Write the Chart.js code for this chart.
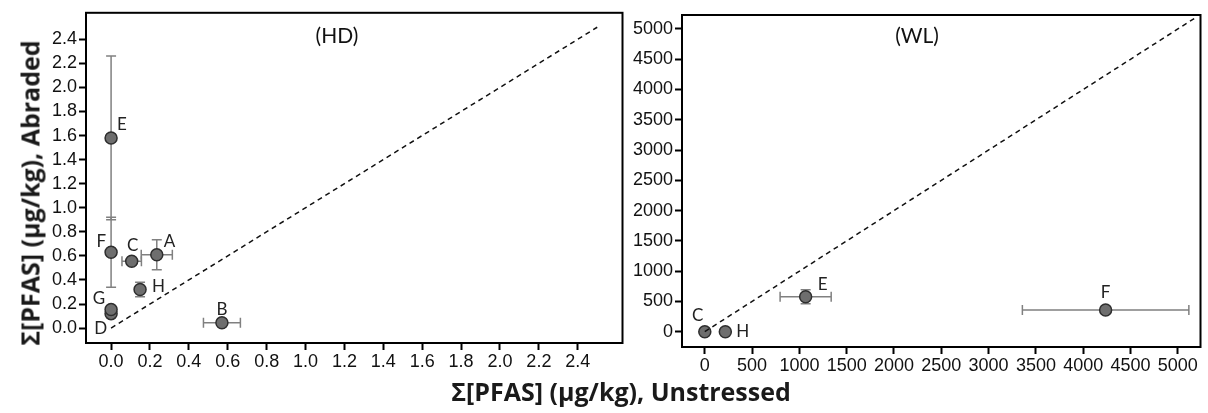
<!DOCTYPE html>
<html>
<head>
<meta charset="utf-8">
<script src="https://cdn.jsdelivr.net/npm/chart.js@4.4.1/dist/chart.umd.min.js"></script>
<style>
  html, body { margin: 0; padding: 0; background: #fff; }
  #wrap { position: relative; width: 1208px; height: 413px; overflow: hidden; }
  canvas { position: absolute; top: 0; }
  #hdChart { left: 0; }
  #wlChart { left: 630px; }
  .axis-title { position: absolute; font-family: 'Open Sans', Lato, sans-serif; font-weight: 700; font-size: 25px; color: #1a1a1a; white-space: nowrap; line-height: 1; }
  #xTitle { left: 321px; width: 600px; top: 379px; text-align: center; }
  #yTitle { left: 30px; top: 193px; transform: translate(-50%, -50%) rotate(-90deg); }
</style>
</head>
<body>
<div id="wrap">
  <canvas id="hdChart" width="630" height="413"></canvas>
  <canvas id="wlChart" width="578" height="413"></canvas>
  <div id="yTitle" class="axis-title">Σ[PFAS] (µg/kg), Abraded</div>
  <div id="xTitle" class="axis-title">Σ[PFAS] (µg/kg), Unstressed</div>
</div>
<script>
// --- data ---
const hdLabels        = ['A', 'B', 'C', 'D', 'E', 'F', 'G', 'H'];
const hdUnstressed    = [0.235, 0.57, 0.106, 0.00, 0.00, 0.00, 0.00, 0.149];
const hdUnstressedErr = [0.08, 0.095, 0.05, 0, 0, 0, 0, 0];
const hdAbraded       = [0.61, 0.044, 0.555, 0.12, 1.58, 0.63, 0.155, 0.32];
const hdAbradedErr    = [0.125, 0, 0, 0, 0.68, 0.29, 0, 0.06];
const hdTicks         = [0.0, 0.2, 0.4, 0.6, 0.8, 1.0, 1.2, 1.4, 1.6, 1.8, 2.0, 2.2, 2.4];
const hdIdentity      = [0, 2.5];

const wlLabels        = ['C', 'E', 'F', 'H'];
const wlUnstressed    = [0, 1066, 4237, 217];
const wlUnstressedErr = [0, 270, 880, 0];
const wlAbraded       = [0, 578, 358, 0];
const wlAbradedErr    = [0, 115, 0, 0];
const wlTicks         = [0, 500, 1000, 1500, 2000, 2500, 3000, 3500, 4000, 4500, 5000];
const wlIdentity      = [0, 5200];

// label placement around each point: [dx, dy, align]
const hdLabelPos = {
    A: [7, -8, 'left'], B: [0, -8, 'center'], C: [1, -10, 'center'], D: [-4, 20, 'right'],
    E: [6, -8, 'left'], F: [-5, -5, 'right'], G: [-6, -5, 'right'], H: [12, 2, 'left']
};
const wlLabelPos = {
    C: [-7, -11, 'center'], E: [12, -7, 'left'], F: [0, -12, 'center'], H: [11, 5, 'left']
};

const TICK_FONT = { family: "'Liberation Sans', Arial, sans-serif", size: 18 };
const TEXT_COLOR = '#111';

// frame, error bars, point letters and panel name
const panelDecor = {
    id: 'panelDecor',
    beforeDatasetDraw(chart, args, opts) {
        if (args.index !== 1) return;
        const { ctx, scales: { x, y } } = chart;
        const cap = 5;
        ctx.save();
        ctx.strokeStyle = '#808080';
        ctx.lineWidth = 1.5;
        opts.xs.forEach((xv, i) => {
            const px = x.getPixelForValue(xv), py = y.getPixelForValue(opts.ys[i]);
            const ex = opts.xErr[i], ey = opts.yErr[i];
            ctx.beginPath();
            if (ex > 0) {
                const l = x.getPixelForValue(xv - ex), r = x.getPixelForValue(xv + ex);
                ctx.moveTo(l, py); ctx.lineTo(r, py);
                ctx.moveTo(l, py - cap); ctx.lineTo(l, py + cap);
                ctx.moveTo(r, py - cap); ctx.lineTo(r, py + cap);
            }
            if (ey > 0) {
                const t = y.getPixelForValue(opts.ys[i] + ey), b = y.getPixelForValue(opts.ys[i] - ey);
                ctx.moveTo(px, t); ctx.lineTo(px, b);
                ctx.moveTo(px - cap, t); ctx.lineTo(px + cap, t);
                ctx.moveTo(px - cap, b); ctx.lineTo(px + cap, b);
            }
            ctx.stroke();
        });
        ctx.restore();
    },
    afterDatasetsDraw(chart, args, opts) {
        const { ctx, chartArea: a, scales: { x, y } } = chart;
        ctx.save();
        ctx.fillStyle = '#222';
        ctx.font = "17px Lato, 'Open Sans', sans-serif";
        ctx.textBaseline = 'alphabetic';
        opts.labels.forEach((lab, i) => {
            const [dx, dy, align] = opts.labelPos[lab];
            ctx.textAlign = align;
            ctx.fillText(lab, x.getPixelForValue(opts.xs[i]) + dx, y.getPixelForValue(opts.ys[i]) + dy);
        });
        ctx.font = "21px Lato, 'Open Sans', sans-serif";
        ctx.textAlign = 'center';
        ctx.fillStyle = '#111';
        ctx.fillText(opts.name, opts.nameX, 43);
        ctx.strokeStyle = '#000';
        ctx.lineWidth = 2;
        ctx.strokeRect(a.left, a.top, a.right - a.left, a.bottom - a.top);
        ctx.restore();
    }
};

function axis(min, max, ticks, fmt, size, pad) {
    return {
        type: 'linear', min, max,
        afterBuildTicks: s => { s.ticks = ticks.map(v => ({ value: v })); },
        afterFit: s => { if (s.isHorizontal()) s.height = size; else s.width = size; },
        ticks: { callback: fmt, font: TICK_FONT, color: TEXT_COLOR, padding: pad, maxRotation: 0, autoSkip: false },
        grid: { drawOnChartArea: false, tickLength: 7, tickColor: '#000', tickWidth: 2 },
        border: { display: false }
    };
}

function makePanel(canvasId, p) {
    const points = p.xs.map((xv, i) => ({ x: xv, y: p.ys[i] }));
    return new Chart(document.getElementById(canvasId), {
        type: 'scatter',
        data: {
            datasets: [
                {
                    data: p.identity.map(v => ({ x: v, y: v })),
                    showLine: true, borderColor: '#111', borderWidth: 1.5, borderDash: [5, 4],
                    pointRadius: 0, pointHoverRadius: 0
                },
                {
                    data: points,
                    pointRadius: 6, pointHoverRadius: 6,
                    backgroundColor: '#6e6e6e', borderColor: '#2e2e2e', borderWidth: 1.5
                }
            ]
        },
        options: {
            responsive: false, animation: false, devicePixelRatio: 1,
            layout: { padding: p.padding },
            scales: {
                x: axis(p.xMin, p.xMax, p.ticks, p.fmt, p.xSize, 1),
                y: axis(p.yMin, p.yMax, p.ticks, p.fmt, p.ySize, 2)
            },
            plugins: {
                legend: { display: false }, tooltip: { enabled: false },
                panelDecor: {
                    xs: p.xs, ys: p.ys, xErr: p.xErr, yErr: p.yErr,
                    labels: p.labels, labelPos: p.labelPos, name: p.name, nameX: p.nameX
                }
            }
        },
        plugins: [panelDecor]
    });
}

makePanel('hdChart', {
    xs: hdUnstressed, ys: hdAbraded, xErr: hdUnstressedErr, yErr: hdAbradedErr,
    labels: hdLabels, labelPos: hdLabelPos, identity: hdIdentity, ticks: hdTicks,
    fmt: v => Number(v).toFixed(1), name: '(HD)', nameX: 337,
    xMin: -0.129, xMax: 2.63, yMin: -0.124, yMax: 2.62,
    xSize: 70, ySize: 86, padding: { left: 0, right: 7, top: 11, bottom: 0 }
});

makePanel('wlChart', {
    xs: wlUnstressed, ys: wlAbraded, xErr: wlUnstressedErr, yErr: wlAbradedErr,
    labels: wlLabels, labelPos: wlLabelPos, identity: wlIdentity, ticks: wlTicks,
    fmt: v => String(v), name: '(WL)', nameX: 287,
    xMin: -241, xMax: 5240, yMin: -253, yMax: 5231,
    xSize: 66, ySize: 52, padding: { left: 0, right: 3, top: 15, bottom: 0 }
});
</script>
</body>
</html>
